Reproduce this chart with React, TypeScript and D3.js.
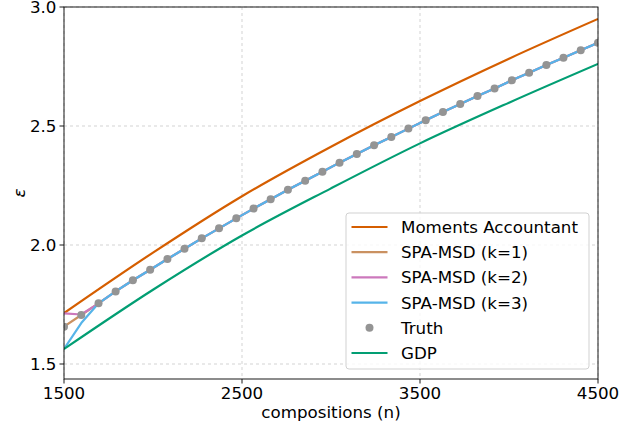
import React from "react";
import * as d3 from "d3";

// ---- data ----
const nGrid = [1500, 1597, 1694, 1790, 1887, 1984, 2081, 2177, 2274, 2371, 2468, 2565, 2661, 2758, 2855, 2952,
  3048, 3145, 3242, 3339, 3435, 3532, 3629, 3726, 3823, 3919, 4016, 4113, 4210, 4306, 4403, 4500];
const truth = [1.657, 1.706, 1.755, 1.805, 1.852, 1.896, 1.941, 1.984, 2.028, 2.07, 2.112, 2.153, 2.192, 2.232,
  2.27, 2.308, 2.346, 2.382, 2.419, 2.454, 2.489, 2.524, 2.559, 2.592, 2.626, 2.658, 2.692, 2.724, 2.756,
  2.787, 2.818, 2.85];
const spaK1 = truth.slice();
const spaK2 = [1.713, 1.708, ...truth.slice(2)];
const spaK3 = [1.563, 1.672, ...truth.slice(2)];
const nCoarse = [1500, 2000, 2500, 3000, 3500, 4000, 4500];
const moments = [1.714, 1.968, 2.205, 2.413, 2.605, 2.783, 2.95];
const gdp = [1.563, 1.812, 2.04, 2.238, 2.427, 2.598, 2.761];
const xTicks = [1500, 2500, 3500, 4500];
const yTicks = [1.5, 2.0, 2.5, 3.0];
const legendLabels = ["Moments Accountant", "SPA-MSD (k=1)", "SPA-MSD (k=2)", "SPA-MSD (k=3)", "Truth", "GDP"];

const C = {
  ma: "#d55e00",
  k1: "#ca9161",
  k2: "#cc78bc",
  k3: "#56b4e9",
  truth: "#949494",
  gdp: "#029e73",
};

const W = 635, H = 430;
const L = 64, R = 598, T = 7, B = 379;
const FONT = "DejaVu Sans, sans-serif";
const FS = 16.7;

export default function App() {
  const x = d3.scaleLinear().domain([1500, 4500]).range([L, R]);
  const y = d3.scaleLinear().domain([1.5, 3.0]).range([364, T]);
  const yMin = y.invert(B);
  y.domain([yMin, 3.0]).range([B, T]);

  const lineXY = (xs: number[], ys: number[], curve: any) =>
    d3.line<number>().x((_, i) => x(xs[i])).y((v) => y(v)).curve(curve)(ys) || "";

  const seriesLines = [
    { d: lineXY(nCoarse, moments, d3.curveMonotoneX), c: C.ma },
    { d: lineXY(nGrid, spaK1, d3.curveLinear), c: C.k1 },
    { d: lineXY(nGrid, spaK2, d3.curveLinear), c: C.k2 },
    { d: lineXY(nGrid, spaK3, d3.curveLinear), c: C.k3 },
  ];

  const legendColors = [C.ma, C.k1, C.k2, C.k3, C.truth, C.gdp];
  const lgX = 346, lgY = 213, lgW = 243, lgH = 156, rowH = 25.2, row0 = 227;

  return (
    <svg width={W} height={H} style={{ position: "absolute", left: 0, top: 0, background: "#fff" }}
      fontFamily={FONT}>
      <defs>
        <clipPath id="plot">
          <rect x={L} y={T} width={R - L} height={B - T} />
        </clipPath>
      </defs>
      <rect x={0} y={0} width={W} height={H} fill="#fff" />
      {/* grid */}
      {xTicks.map((t) => (
        <line key={"gx" + t} x1={x(t)} x2={x(t)} y1={T} y2={B} stroke="#b0b0b0" strokeOpacity={0.7}
          strokeWidth={0.8} strokeDasharray="3,3" />
      ))}
      {yTicks.map((t) => (
        <line key={"gy" + t} x1={L} x2={R} y1={y(t)} y2={y(t)} stroke="#b0b0b0" strokeOpacity={0.7}
          strokeWidth={0.8} strokeDasharray="3,3" />
      ))}
      <g clipPath="url(#plot)">
        {seriesLines.map((s, i) => (
          <path key={i} d={s.d} fill="none" stroke={s.c} strokeWidth={2.2} strokeLinejoin="round" />
        ))}
        {nGrid.map((n, i) => (
          <circle key={"t" + i} cx={x(n)} cy={y(truth[i])} r={4} fill={C.truth} />
        ))}
        <path d={lineXY(nCoarse, gdp, d3.curveMonotoneX)} fill="none" stroke={C.gdp} strokeWidth={2.2} />
      </g>
      {/* spines */}
      <rect x={L} y={T} width={R - L} height={B - T} fill="none" stroke="#000" strokeWidth={0.9} />
      {/* x ticks */}
      {xTicks.map((t) => (
        <g key={"xt" + t}>
          <line x1={x(t)} x2={x(t)} y1={B} y2={B + 4.5} stroke="#000" strokeWidth={0.9} />
          <text x={x(t)} y={B + 19.5} textAnchor="middle" fontSize={FS} fill="#000">{String(t)}</text>
        </g>
      ))}
      {yTicks.map((t) => (
        <g key={"yt" + t}>
          <line x1={L - 4.5} x2={L} y1={y(t)} y2={y(t)} stroke="#000" strokeWidth={0.9} />
          <text x={L - 7.5} y={y(t)} dy="0.36em" textAnchor="end" fontSize={FS} fill="#000">{t.toFixed(1)}</text>
        </g>
      ))}
      <text x={(L + R) / 2} y={418} textAnchor="middle" fontSize={FS} fill="#000">compositions (n)</text>
      <text transform={`translate(20,${(T + B) / 2}) rotate(-90)`} textAnchor="middle" dy="0.3em"
        fontSize={FS} fontStyle="italic" fill="#000">ε</text>
      {/* legend */}
      <rect x={lgX} y={lgY} width={lgW} height={lgH} rx={3} fill="#fff" fillOpacity={0.8} stroke="#cccccc"
        strokeWidth={0.9} />
      {legendLabels.map((lab, i) => {
        const cy = row0 + i * rowH;
        return (
          <g key={lab}>
            {lab === "Truth" ? (
              <circle cx={369.5} cy={cy} r={4} fill={legendColors[i]} />
            ) : (
              <line x1={351.5} x2={387.5} y1={cy} y2={cy} stroke={legendColors[i]} strokeWidth={2.2} />
            )}
            <text x={401} y={cy} dy="0.36em" fontSize={FS} fill="#000">{lab}</text>
          </g>
        );
      })}
    </svg>
  );
}
